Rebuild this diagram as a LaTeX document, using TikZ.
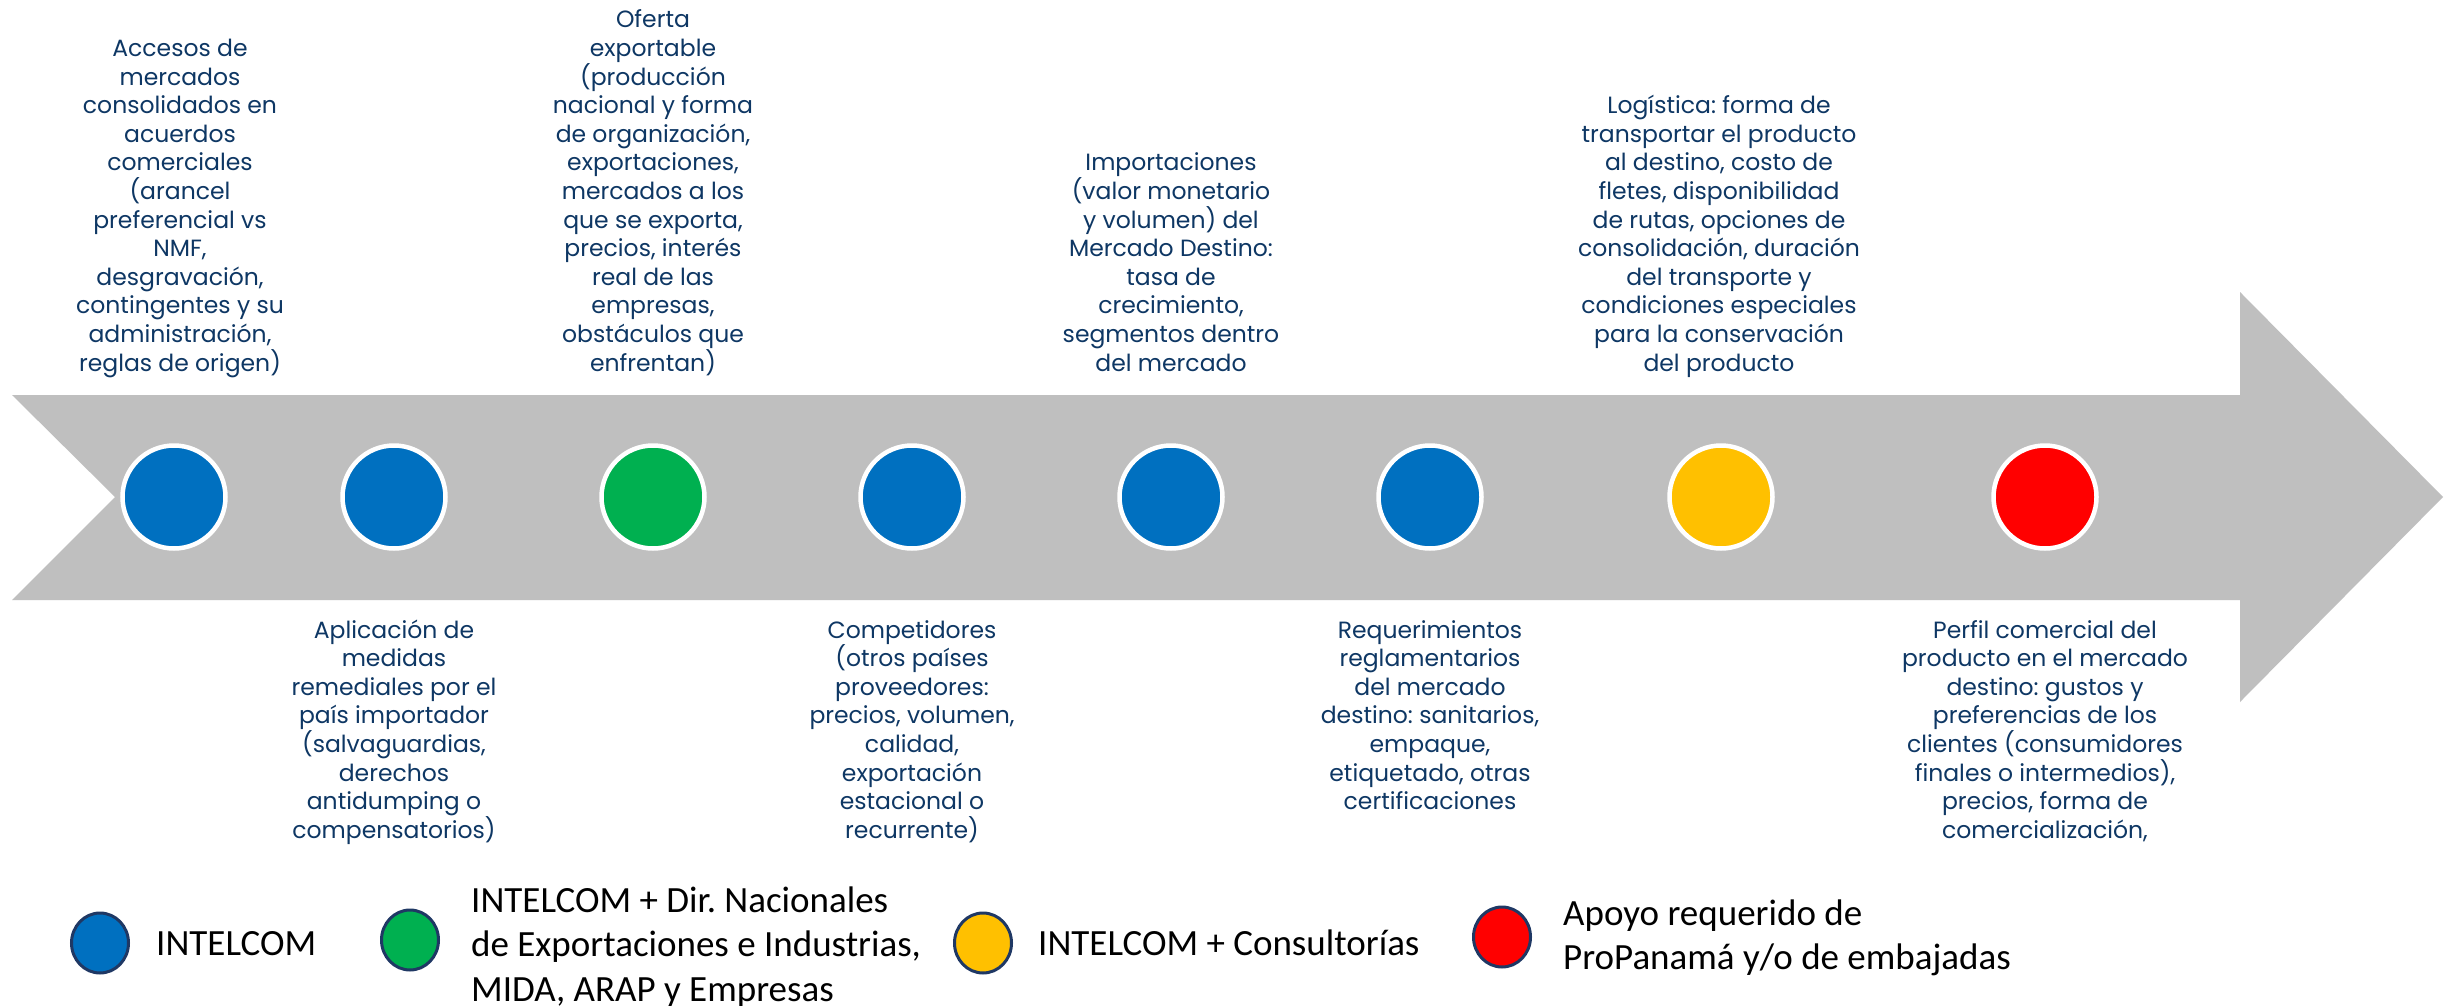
\documentclass[tikz,border=0pt]{standalone}
\usepackage{fontspec}
\setmainfont{Poppins}
\newfontfamily\legfont{Carlito}
\usetikzlibrary{shapes.geometric}
\frenchspacing
\definecolor{arrowgray}{HTML}{BFBFBF}
\definecolor{cblue}{HTML}{0070C0}
\definecolor{cgreen}{HTML}{00B050}
\definecolor{cyellow}{HTML}{FFC000}
\definecolor{cred}{HTML}{FF0000}
\definecolor{navytext}{RGB}{14,55,100}
\definecolor{legborder}{HTML}{1F3864}
\newcommand\uptext[1]{\vbox{\hsize=420pt\fontsize{23.5}{28.6}\selectfont\frenchspacing\centering\parskip=0pt\baselineskip=28.6pt\lineskiplimit=-100pt\lineskip=0pt\noindent #1\par}}
\newcommand\downtext[1]{\vtop{\hsize=420pt\fontsize{23.5}{28.6}\selectfont\frenchspacing\centering\parskip=0pt\baselineskip=28.6pt\lineskiplimit=-100pt\lineskip=0pt\noindent #1\par}}
\newcommand\legtext[1]{\vtop{\hsize=600pt\legfont\fontsize{37}{44.5}\selectfont\frenchspacing\raggedright\parskip=0pt\parindent=0pt\baselineskip=44.5pt\lineskiplimit=-100pt\lineskip=0pt\noindent #1\par}}
\tikzset{
  dot/.style={circle, inner sep=0pt, minimum size=103pt, draw=white, line width=4.5pt},
  legdot/.style={ellipse, inner sep=0pt, minimum width=57pt, minimum height=60pt, draw=legborder, line width=3pt},
  txt/.style={inner sep=0pt, text=navytext},
  legtxt/.style={inner sep=0pt, text=black, font=\legfont\fontsize{37}{44.5}\selectfont}
}
\begin{document}
\begin{tikzpicture}[x=1pt,y=-1pt]
\useasboundingbox[fill=white] (0,0) rectangle (2450,1006);
% arrow
\fill[arrowgray] (12,395) -- (2240,395) -- (2240,292) -- (2443,497) -- (2240,702) -- (2240,600) -- (12,600) -- (115,497) -- cycle;
% circles
\node[dot, fill=cblue]   (c1) at (174,497) {};
\node[dot, fill=cblue]   (c2) at (394,497) {};
\node[dot, fill=cgreen]  (c3) at (653,497) {};
\node[dot, fill=cblue]   (c4) at (912,497) {};
\node[dot, fill=cblue]   (c5) at (1171,497) {};
\node[dot, fill=cblue]   (c6) at (1430,497) {};
\node[dot, fill=cyellow] (c7) at (1721,497) {};
\node[dot, fill=cred]    (c8) at (2045,497) {};
% top texts
\node[txt, anchor=base] (t1) at (180,371) {\uptext{Accesos de\\mercados\\consolidados en\\acuerdos\\comerciales\\(arancel\\preferencial vs\\NMF,\\desgravación,\\contingentes y su\\administración,\\reglas de origen)}};
\node[txt, anchor=base] (t2) at (653,371) {\uptext{Oferta\\exportable\\(producción\\nacional y forma\\de organización,\\exportaciones,\\mercados a los\\que se exporta,\\precios, interés\\real de las\\empresas,\\obstáculos que\\enfrentan)}};
\node[txt, anchor=base] (t3) at (1171,371) {\uptext{Importaciones\\(valor monetario\\y volumen) del\\Mercado Destino:\\tasa de\\crecimiento,\\segmentos dentro\\del mercado}};
\node[txt, anchor=base] (t4) at (1719,371) {\uptext{Logística: forma de\\transportar el producto\\al destino, costo de\\fletes, disponibilidad\\de rutas, opciones de\\consolidación, duración\\del transporte y\\condiciones especiales\\para la conservación\\del producto}};
% bottom texts
\node[txt, anchor=base] (b1) at (394,638) {\downtext{Aplicación de\\medidas\\remediales por el\\país importador\\(salvaguardias,\\derechos\\antidumping o\\compensatorios)}};
\node[txt, anchor=base] (b2) at (912,638) {\downtext{Competidores\\(otros países\\proveedores:\\precios, volumen,\\calidad,\\exportación\\estacional o\\recurrente)}};
\node[txt, anchor=base] (b3) at (1430,638) {\downtext{Requerimientos\\reglamentarios\\del mercado\\destino: sanitarios,\\empaque,\\etiquetado, otras\\certificaciones}};
\node[txt, anchor=base] (b4) at (2045,638) {\downtext{Perfil comercial del\\producto en el mercado\\destino: gustos y\\preferencias de los\\clientes (consumidores\\finales o intermedios),\\precios, forma de\\comercialización,}};
% legend
\node[legdot, fill=cblue]   (l1) at (100,943) {};
\node[legdot, fill=cgreen]  (l2) at (410,940) {};
\node[legdot, fill=cyellow] (l3) at (983,943) {};
\node[legdot, fill=cred]    (l4) at (1502,937) {};
\node[legtxt, anchor=base west] (lt1) at (156,955) {INTELCOM};
\node[legtxt, anchor=base west] (lt2) at (471,912) {\legtext{INTELCOM + Dir. Nacionales\\de Exportaciones e Industrias,\\MIDA, ARAP y Empresas}};
\node[legtxt, anchor=base west] (lt3) at (1038,955) {INTELCOM + Consultorías};
\node[legtxt, anchor=base west] (lt4) at (1563,925) {\legtext{Apoyo requerido de\\ProPanamá y/o de embajadas}};
\end{tikzpicture}
\end{document}
